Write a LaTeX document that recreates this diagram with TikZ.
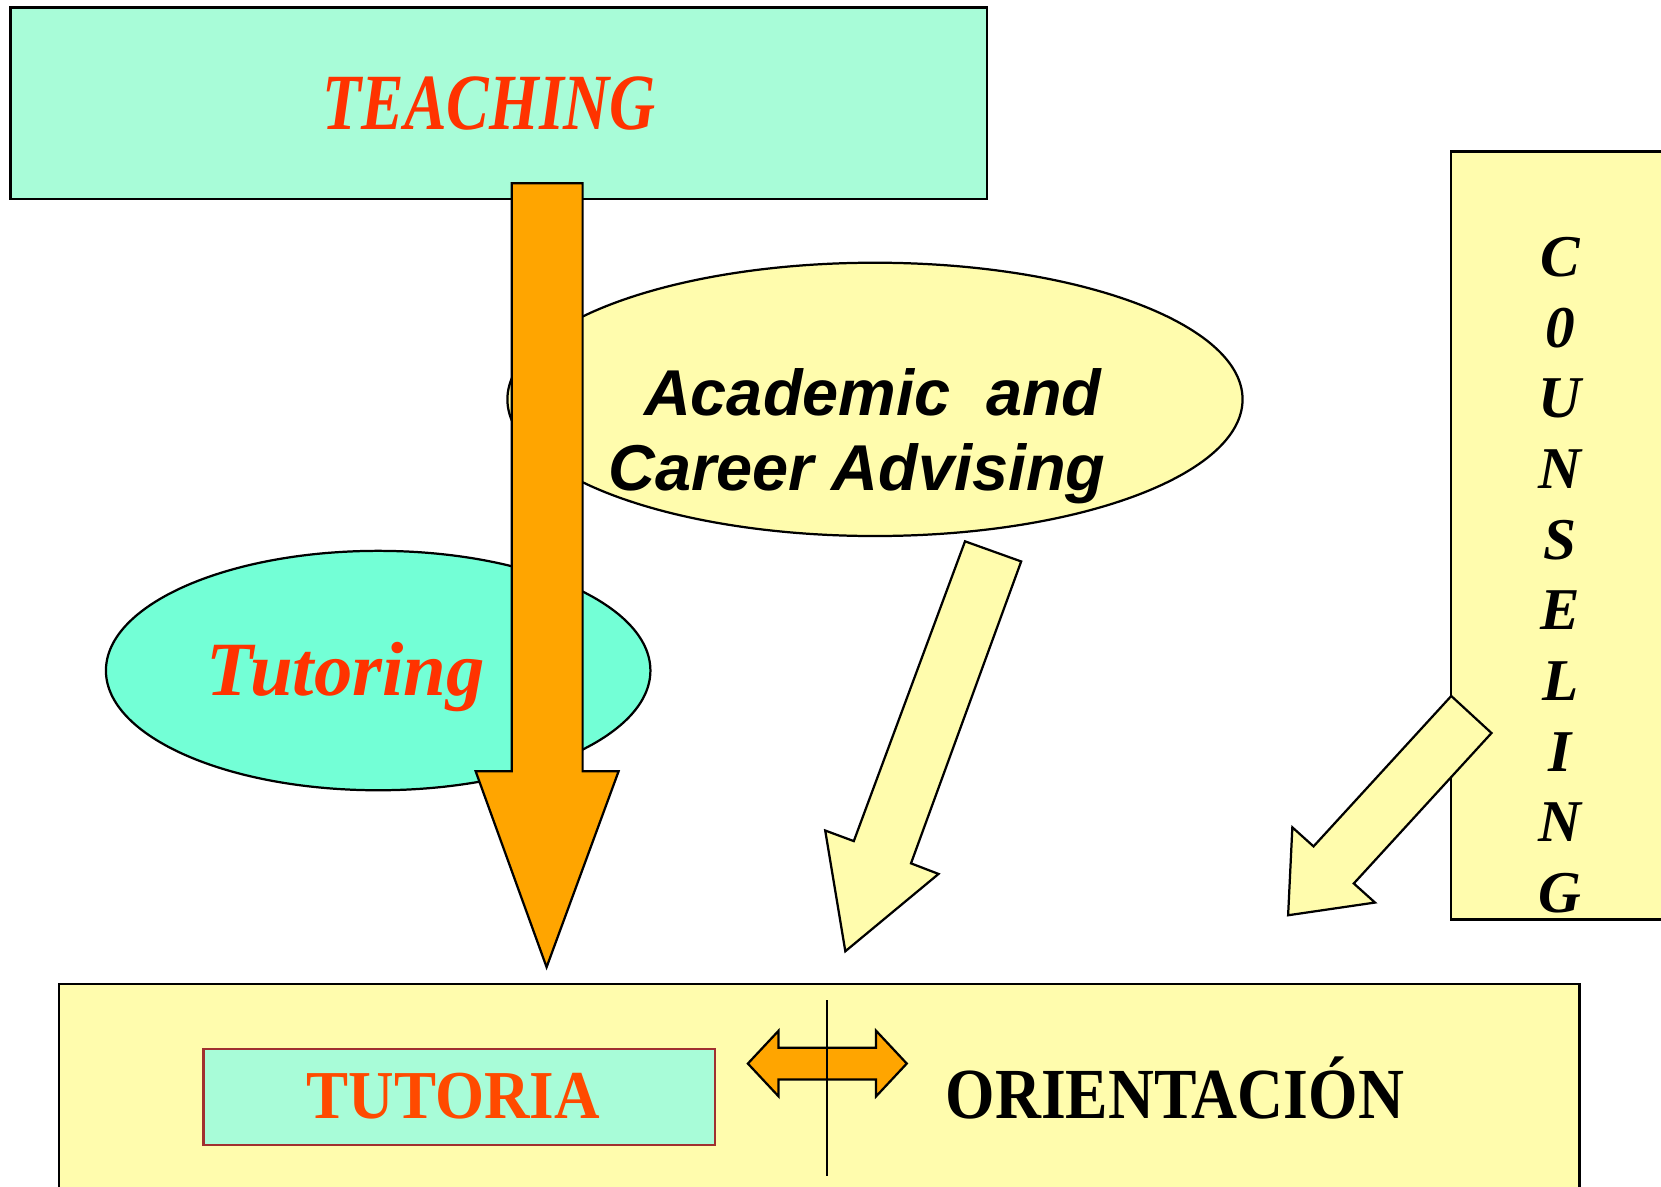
\documentclass[tikz,border=0pt]{standalone}
\usepackage{fontspec}
\setmainfont{Liberation Serif}
\newfontfamily\arialfont{Liberation Sans}
\definecolor{mint}{HTML}{A8FCD8}
\definecolor{aqua}{HTML}{73FFD6}
\definecolor{cream}{HTML}{FFFCAD}
\definecolor{amber}{HTML}{FFA500}
\definecolor{scarlet}{HTML}{FF3300}
\definecolor{rust}{HTML}{FF4A00}
\definecolor{wine}{HTML}{A03030}
\begin{document}
\begin{tikzpicture}[x=0.01cm,y=-0.01cm,line width=0.6pt,
    outl/.style={draw=black,line join=miter},
    word/.style={inner sep=0pt,anchor=base}]
\useasboundingbox (0,0) rectangle (1568,1120);
\draw[outl,fill=mint] (10,7) rectangle (932,188);
\node[word,text=scarlet,font=\fontsize{21.4}{24}\selectfont\bfseries\itshape] (teaching) at (462,122) {\scalebox{0.8}[1]{TEACHING}};
\draw[outl,fill=cream] (826,377) ellipse [x radius=347, y radius=129];
\draw[outl,fill=aqua] (357,633) ellipse [x radius=257, y radius=113];
\draw[outl,fill=amber] (483,173) -- (550,173) -- (550,728) -- (584,728) -- (516,913) -- (449,728) -- (483,728) -- cycle;
\node[word,font=\arialfont\fontsize{17.4}{20}\selectfont\bfseries\itshape] (academic) at (824,392) {Academic~~and};
\node[word,font=\arialfont\fontsize{17.4}{20}\selectfont\bfseries\itshape] (career) at (809,463) {Career Advising};
\node[word,text=scarlet,font=\fontsize{20.6}{24}\selectfont\bfseries\itshape] (tutoring) at (326,657) {Tutoring};
\draw[outl,fill=cream] (911,511) -- (964,530) -- (860,815) -- (886,825) -- (798,898) -- (779,784) -- (806,794) -- cycle;
\draw[outl,fill=cream] (1600,143) -- (1370,143) -- (1370,868) -- (1600,868);
\foreach \ch [count=\i from 0] in {C,0,U,N,S,E,L,I,N,G}
  \node[word,font=\fontsize{15.9}{18}\selectfont\bfseries\itshape] (counsel\i) at (1473,261+66.7*\i) {\ch};
\draw[outl,fill=cream] (1370,657) -- (1408,692) -- (1278,834) -- (1298,852) -- (1216,864) -- (1220,781) -- (1240,799) -- cycle;
\draw[outl,fill=cream] (56,1140) -- (56,929) -- (1491,929) -- (1491,1140);
\draw[draw=wine,line width=0.6pt,fill=mint] (192,990) rectangle (675,1081);
\node[word,text=rust,font=\fontsize{18.4}{22}\selectfont\bfseries] (tutoria) at (428,1056) {\scalebox{0.92}[1]{TUTORIA}};
\node[word,font=\fontsize{19.3}{22}\selectfont\bfseries] (orientacion) at (1109,1056) {\scalebox{0.885}[1]{ORIENTACIÓN}};
\draw[outl,fill=amber] (706,1004) -- (735,973) -- (735,989) -- (827,989) -- (827,973) -- (856,1004) -- (827,1035) -- (827,1019) -- (735,1019) -- (735,1035) -- cycle;
\draw (781,944) -- (781,1110);
\end{tikzpicture}
\end{document}
